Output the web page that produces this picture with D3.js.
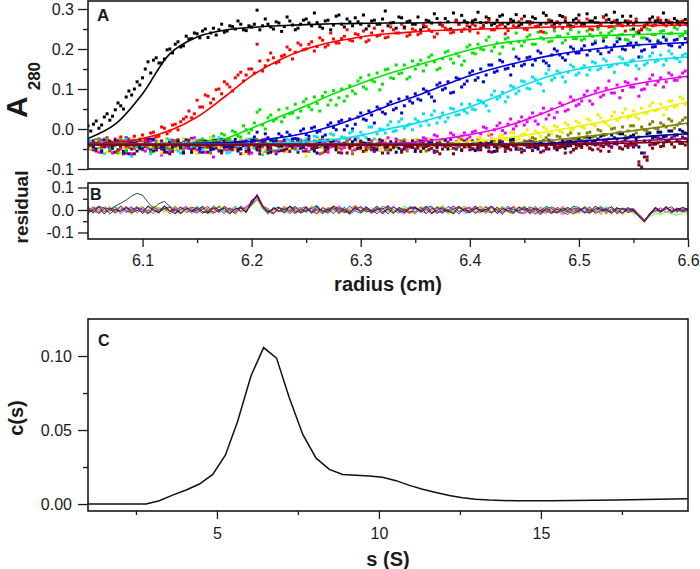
<!DOCTYPE html>
<html><head><meta charset="utf-8">
<script src="https://cdn.jsdelivr.net/npm/d3@7"></script>
<style>
body{margin:0;background:#fff;}
svg{display:block;}
</style></head><body>
<svg id="chart" width="700" height="569"></svg>
<script>
// ---------------- DATA ----------------
// radial positions of the scan points (cm), first reading set
const radius = [
6.050,6.055,6.060,6.065,6.070,6.075,6.080,6.085,6.090,6.095,
6.100,6.105,6.110,6.115,6.120,6.125,6.130,6.135,6.140,6.145,
6.150,6.155,6.160,6.165,6.170,6.175,6.180,6.185,6.190,6.195,
6.200,6.205,6.210,6.215,6.220,6.225,6.230,6.235,6.240,6.245,
6.250,6.255,6.260,6.265,6.270,6.275,6.280,6.285,6.290,6.295,
6.300,6.305,6.310,6.315,6.320,6.325,6.330,6.335,6.340,6.345,
6.350,6.355,6.360,6.365,6.370,6.375,6.380,6.385,6.390,6.395,
6.400,6.405,6.410,6.415,6.420,6.425,6.430,6.435,6.440,6.445,
6.450,6.455,6.460,6.465,6.470,6.475,6.480,6.485,6.490,6.495,
6.500,6.505,6.510,6.515,6.520,6.525,6.530,6.535,6.540,6.545,
6.550,6.555,6.560,6.565,6.570,6.575,6.580,6.585,6.590,6.595,
6.600];
// radial positions of the interleaved readings (cm)
const radiusMid = [
6.0525,6.0575,6.0625,6.0675,6.0725,6.0775,6.0825,6.0875,6.0925,6.0975,
6.1025,6.1075,6.1125,6.1175,6.1225,6.1275,6.1325,6.1375,6.1425,6.1475,
6.1525,6.1575,6.1625,6.1675,6.1725,6.1775,6.1825,6.1875,6.1925,6.1975,
6.2025,6.2075,6.2125,6.2175,6.2225,6.2275,6.2325,6.2375,6.2425,6.2475,
6.2525,6.2575,6.2625,6.2675,6.2725,6.2775,6.2825,6.2875,6.2925,6.2975,
6.3025,6.3075,6.3125,6.3175,6.3225,6.3275,6.3325,6.3375,6.3425,6.3475,
6.3525,6.3575,6.3625,6.3675,6.3725,6.3775,6.3825,6.3875,6.3925,6.3975,
6.4025,6.4075,6.4125,6.4175,6.4225,6.4275,6.4325,6.4375,6.4425,6.4475,
6.4525,6.4575,6.4625,6.4675,6.4725,6.4775,6.4825,6.4875,6.4925,6.4975,
6.5025,6.5075,6.5125,6.5175,6.5225,6.5275,6.5325,6.5375,6.5425,6.5475,
6.5525,6.5575,6.5625,6.5675,6.5725,6.5775,6.5825,6.5875,6.5925,6.5975];
// radial positions of the fitted curves (cm)
const fitRadius = [6.050,6.075,6.100,6.125,6.150,6.175,6.200,6.225,6.250,6.275,6.300,6.325,6.350,6.375,6.400,6.425,6.450,6.475,6.500,6.525,6.550,6.575,6.600];

// absorbance at 280 nm (milli-absorbance units) at radius
const scan1 = [8,12,2,30,22,48,58,80,85,118, 128,168,172,165,175,200,212,205,232,226, 238,245,229,252,248,242,258,250,262,246, 255,297,258,262,250,265,256,270,248,262, 275,258,266,252,272,260,285,255,268,278, 262,250,270,262,275,258,266,280,255,270, 262,248,272,265,276,258,268,290,262,270, 255,273,266,280,260,272,285,263,270,258, 282,268,276,262,284,270,266,281,258,272, 285,264,270,278,260,285,266,272,282,262, 250,240,258,275,270,266,272,262,270,268, 264];
const scan2 = [-30,-45,-25,-40,-52,-33,-20,-42,-28,-36, -15,-25,-8,-18,2,-5,12,18,30,28, 72,55,82,75,100,118,105,128,142,135, 150,212,145,172,178,168,185,198,192,210, 200,218,206,222,210,225,215,232,222,238, 228,218,240,232,245,230,248,240,252,236, 246,240,256,244,238,258,248,242,262,250, 245,258,252,266,248,256,262,246,258,268, 250,262,256,244,264,258,268,252,262,256, 270,258,250,266,260,272,256,264,258,270, 262,245,255,268,260,272,258,266,262,270, 258];
const scan3 = [-32,-48,-38,-25,-50,-42,-35,-55,-30,-44, -38,-28,-47,-36,-52,-40,-30,-45,-35,-26, -40,-25,-36,-18,-30,-15,-26,-8,-20,-2, -2,42,10,28,20,48,30,38,62,45, 75,48,64,82,60,96,78,70,108,88, 128,100,122,140,112,150,126,138,160,130, 150,172,160,185,148,176,195,165,182,170, 210,188,200,222,195,215,205,228,200,218, 218,235,212,228,240,220,232,215,238,226, 242,225,236,220,240,230,245,228,236,222, 232,210,228,248,236,244,225,240,250,234, 238];
const scan4 = [-30,-45,-52,-28,-40,-35,-48,-22,-38,-55, -33,-42,-26,-46,-38,-30,-50,-36,-44,-24, -40,-58,-32,-38,-47,-28,-42,-35,-50,-30, -28,-8,-36,-22,-30,-12,-28,-15,-24,-5, -14,2,-8,-20,10,4,18,-2,25,12, 40,22,35,55,42,62,48,75,58,70, 88,72,95,80,110,98,118,92,125,112, 140,122,150,135,160,145,168,152,158,175, 162,180,172,190,165,185,195,178,188,200, 190,208,196,215,188,205,198,218,200,212, 205,180,198,220,206,215,222,208,224,212, 218];
const scan5 = [-35,-50,-28,-62,-40,-33,-45,-25,-68,-38, -42,-30,-55,-36,-48,-27,-40,-60,-34,-45, -29,-52,-38,-44,-22,-36,-58,-40,-31,-47, -26,-42,-64,-35,-30,-50,-38,-28,-45,-33, -25,-40,-20,-34,-28,-15,-30,-22,-10,-25, -8,-22,5,-12,-2,10,-6,18,2,12, 25,8,20,35,15,40,28,50,36,45, 62,48,70,58,85,75,92,80,105,95, 118,100,125,112,138,122,145,130,142,155, 140,158,148,165,152,170,158,162,175,160, 172,150,160,182,168,185,172,188,176,184, 180];
const scan6 = [-45,-30,-58,-38,-42,-25,-50,-35,-62,-40, -33,-48,-28,-44,-38,-55,-30,-42,-47,-26, -52,-36,-40,-70,-33,-45,-29,-50,-38,-42, -60,-35,-27,-48,-40,-32,-55,-38,-44,-28, -50,-36,-42,-30,-58,-40,-34,-46,-25,-52, -38,-43,-30,-48,-36,-22,-45,-38,-28,-40, -30,-42,-25,-36,-18,-28,-32,-15,-24,-10, -20,-5,-12,2,-15,8,-4,12,0,18, 10,28,20,38,25,50,42,60,48,72, 62,85,70,95,80,102,90,110,96,115, 105,82,100,125,110,128,118,135,122,140, 130];
const scan7 = [-40,-28,-52,-35,-45,-30,-60,-38,-25,-48, -36,-42,-55,-32,-40,-27,-50,-38,-44,-30, -62,-35,-41,-28,-46,-38,-33,-52,-40,-25, -45,-36,-58,-30,-42,-38,-27,-50,-34,-44, -68,-36,-30,-48,-40,-26,-52,-38,-35,-45, -30,-56,-40,-28,-44,-36,-50,-32,-42,-38, -26,-48,-35,-40,-55,-30,-44,-38,-28,-42, -30,-40,-22,-35,-20,-32,-15,-28,-10,-24, -12,-22,-5,-18,0,-12,5,-8,10,0, 15,2,22,8,28,15,32,22,40,28, 45,25,40,58,46,62,50,70,58,75, 65];
const scan8 = [-35,-48,-30,-42,-55,-38,-28,-45,-40,-33, -52,-36,-25,-44,-38,-50,-30,-42,-36,-58, -32,-40,-46,-28,-38,-52,-35,-42,-30,-48, -38,-26,-45,-40,-55,-33,-42,-36,-50,-28, -40,-45,-32,-60,-38,-30,-47,-36,-42,-25, -50,-38,-34,-44,-30,-52,-40,-36,-28,-46, -38,-42,-55,-32,-40,-26,-48,-36,-44,-30, -40,-50,-34,-38,-28,-45,-36,-42,-30,-48, -30,-40,-25,-35,-22,-30,-18,-28,-15,-25, -12,-22,-8,-18,-5,-14,0,-10,5,-5, 8,-20,-2,12,2,15,5,20,10,22, 12];
const scan9 = [-42,-30,-50,-36,-45,-28,-40,-55,-33,-38, -48,-25,-44,-36,-52,-30,-40,-46,-35,-58, -38,-28,-42,-50,-32,-45,-38,-26,-48,-40, -35,-52,-30,-44,-38,-55,-28,-42,-36,-48, -32,-40,-60,-35,-45,-30,-50,-38,-42,-27, -46,-36,-40,-52,-30,-44,-38,-48,-34,-42, -56,-30,-40,-36,-46,-28,-50,-38,-44,-32, -40,-54,-36,-45,-30,-48,-38,-42,-26,-50, -36,-40,-46,-32,-44,-38,-52,-30,-42,-36, -25,-35,-22,-30,-18,-28,-15,-25,-12,-22, -15,-45,-30,-10,-20,-8,-18,-5,-15,-6, -12];
const scan10 = [-45,-32,-55,-38,-48,-28,-42,-60,-35,-40, -50,-30,-46,-38,-58,-33,-44,-40,-27,-52, -36,-48,-42,-30,-55,-38,-45,-34,-62,-40, -28,-46,-38,-52,-35,-42,-30,-56,-40,-44, -32,-50,-38,-46,-28,-42,-58,-36,-40,-48, -30,-44,-52,-38,-35,-60,-42,-30,-46,-38, -50,-34,-44,-28,-56,-40,-36,-48,-42,-30, -52,-38,-45,-35,-58,-40,-32,-48,-42,-36, -54,-30,-44,-40,-50,-35,-46,-38,-30,-52, -40,-34,-48,-36,-42,-28,-45,-38,-32,-46, -38,-82,-60,-30,-38,-25,-32,-22,-30,-20, -28];
const scan11 = [-40,-52,-35,-45,-30,-58,-42,-38,-50,-33, -46,-40,-55,-36,-44,-62,-38,-48,-30,-52, -42,-35,-58,-40,-47,-33,-50,-44,-38,-56, -36,-48,-40,-60,-32,-45,-52,-38,-44,-35, -55,-40,-46,-30,-50,-42,-58,-36,-48,-40, -34,-52,-44,-38,-60,-40,-46,-32,-50,-42, -38,-56,-42,-48,-35,-50,-40,-62,-36,-45, -44,-38,-52,-40,-34,-55,-42,-48,-36,-50, -40,-46,-35,-58,-42,-38,-50,-44,-36,-52, -42,-36,-48,-40,-55,-38,-45,-34,-50,-40, -45,-90,-70,-40,-36,-44,-30,-38,-28,-36, -32];

// absorbance (milli-absorbance units) at radiusMid
const scan1Mid = [-5,20,10,38,32,65,50,95,100,110, 150,140,178,165,198,190,218,208,225,240, 228,250,240,235,262,245,256,270,248,258, 262,248,275,255,268,244,280,260,252,272, 265,290,256,270,248,282,262,275,258,268, 285,258,272,262,295,265,252,278,268,262, 280,255,270,288,262,276,250,272,284,266, 270,292,258,276,264,282,255,274,286,262, 268,280,256,290,272,262,284,270,258,276, 262,288,270,256,280,274,292,264,270,282, 268,248,262,280,272,290,266,276,260,274];
const scan2Mid = [-48,-30,-42,-22,-38,-55,-30,-40,-18,-34, -28,-10,-20,5,-12,10,-2,25,45,38, 55,85,65,98,88,112,95,135,120,150, 140,170,158,190,165,182,205,175,215,198, 212,195,228,205,240,215,226,248,220,236, 245,222,252,235,228,255,240,262,232,250, 236,260,248,230,265,252,240,270,244,258, 262,240,255,272,248,260,238,268,254,275, 248,266,258,242,272,252,262,278,250,264, 258,275,248,266,280,255,270,262,245,268, 275,250,265,258,278,262,270,255,268,262];
const scan3Mid = [-45,-28,-52,-36,-42,-60,-30,-38,-48,-26, -40,-55,-33,-44,-25,-50,-38,-46,-30,-42, -28,-40,-22,-35,-12,-28,-5,-18,8,-10, 15,48,0,35,25,18,52,40,28,68, 55,80,45,92,72,60,100,82,95,120, 105,135,118,98,148,128,160,140,125,170, 162,145,180,168,152,192,175,188,160,205, 190,212,198,230,205,188,225,215,240,208, 230,212,242,225,218,245,232,222,248,226, 222,245,232,250,228,240,252,235,224,248, 242,228,250,236,222,246,238,255,232,244];
const scan4Mid = [-42,-28,-55,-36,-48,-30,-40,-62,-34,-45, -26,-50,-38,-44,-58,-32,-40,-28,-48,-36, -45,-30,-52,-38,-26,-44,-35,-55,-32,-40, -20,-35,-12,-28,-40,-18,-8,-25,-30,0, -18,5,-5,-15,15,-2,22,8,0,30, 25,45,15,50,38,68,52,40,80,65, 75,100,88,70,115,102,90,128,105,120, 145,128,118,160,142,172,150,135,180,158, 178,160,195,170,158,200,185,172,205,190, 200,185,212,195,220,192,210,225,198,215, 215,195,225,205,218,230,210,222,205,226];
const scan5Mid = [-30,-52,-40,-26,-58,-35,-45,-38,-28,-50, -36,-62,-42,-30,-48,-38,-55,-25,-44,-33, -52,-38,-28,-46,-40,-60,-32,-42,-36,-25, -48,-34,-56,-38,-30,-44,-26,-40,-52,-30, -35,-18,-42,-28,-12,-36,-20,-30,-5,-22, -15,5,-25,0,-10,18,-4,25,8,-2, 20,38,10,45,28,18,52,35,62,40, 50,72,65,45,95,80,68,108,88,120, 102,130,115,95,148,128,140,118,160,135, 152,135,168,148,175,155,142,180,162,170, 158,180,165,190,172,160,195,178,168,188];
const scan6Mid = [-36,-52,-28,-44,-60,-33,-40,-25,-48,-38, -55,-30,-42,-65,-35,-28,-50,-38,-45,-22, -40,-58,-34,-46,-26,-52,-38,-42,-30,-62, -35,-48,-25,-40,-55,-32,-44,-38,-28,-50, -42,-30,-62,-36,-45,-28,-50,-38,-55,-33, -46,-28,-40,-52,-32,-45,-25,-38,-50,-30, -42,-22,-35,-15,-40,-28,-10,-32,-18,-25, -8,-25,5,-15,-2,15,-10,25,8,30, 18,40,12,52,35,28,65,45,80,58, 70,95,62,102,85,120,90,78,118,105, 125,98,112,135,118,105,140,122,130,145];
const scan7Mid = [-48,-30,-42,-58,-35,-25,-46,-38,-52,-32, -28,-45,-38,-60,-30,-42,-50,-26,-40,-55, -35,-48,-22,-40,-52,-34,-45,-30,-62,-38, -42,-28,-50,-36,-25,-46,-58,-32,-40,-48, -30,-55,-38,-44,-26,-50,-36,-42,-60,-34, -46,-32,-40,-52,-28,-44,-38,-56,-30,-42, -36,-50,-25,-44,-38,-30,-48,-34,-22,-40, -38,-22,-30,-12,-35,-18,-25,-8,-28,-15, -2,-20,-10,5,-15,8,-5,15,-2,20, 5,25,12,35,18,8,42,28,50,32, 30,52,40,65,48,35,70,55,80,62];
const scan8Mid = [-50,-36,-44,-28,-40,-55,-32,-46,-38,-25, -42,-58,-30,-40,-48,-35,-26,-52,-38,-44, -30,-45,-60,-36,-42,-28,-50,-38,-33,-55, -46,-32,-40,-52,-25,-44,-36,-48,-30,-42, -56,-38,-28,-45,-35,-50,-40,-30,-62,-38, -34,-48,-40,-26,-52,-36,-44,-30,-55,-42, -28,-46,-38,-58,-32,-42,-36,-50,-26,-44, -48,-34,-40,-55,-30,-45,-38,-26,-50,-36, -40,-22,-36,-28,-15,-35,-20,-30,-10,-26, -28,-10,-20,-2,-15,-25,2,-8,-18,8, -10,5,-5,18,0,10,25,2,15,28];
const scan9Mid = [-34,-50,-40,-28,-45,-36,-56,-30,-42,-48, -38,-26,-52,-40,-35,-46,-30,-60,-38,-44, -50,-32,-42,-28,-55,-38,-45,-34,-40,-52, -28,-44,-36,-58,-30,-42,-50,-38,-25,-46, -40,-55,-34,-45,-28,-52,-38,-42,-32,-48, -36,-26,-50,-40,-46,-32,-58,-38,-44,-30, -42,-48,-34,-55,-38,-28,-45,-40,-52,-36, -30,-46,-40,-36,-56,-32,-44,-28,-50,-38, -45,-32,-50,-38,-28,-44,-35,-48,-30,-40, -38,-20,-32,-25,-15,-35,-22,-12,-28,-18, -25,-60,-12,-22,-8,-20,-5,-15,-2,-10];
const scan10Mid = [-36,-55,-42,-30,-48,-38,-62,-34,-45,-28, -44,-38,-52,-30,-40,-56,-35,-46,-28,-42, -58,-32,-40,-48,-36,-26,-52,-42,-38,-46, -40,-54,-30,-44,-62,-36,-48,-32,-42,-55, -26,-46,-38,-52,-34,-44,-60,-30,-40,-48, -42,-36,-56,-28,-46,-40,-32,-52,-38,-44, -48,-30,-42,-58,-36,-44,-26,-50,-40,-34, -38,-52,-32,-46,-40,-28,-56,-36,-44,-50, -32,-45,-40,-55,-30,-48,-38,-42,-58,-36, -44,-30,-38,-50,-28,-42,-35,-46,-25,-40, -30,-95,-70,-38,-22,-35,-28,-18,-32,-24];
const scan11Mid = [-48,-36,-58,-42,-34,-52,-45,-38,-62,-40, -36,-55,-44,-50,-38,-46,-32,-58,-42,-48, -52,-40,-46,-34,-60,-44,-38,-50,-42,-56, -44,-62,-38,-48,-40,-54,-36,-46,-58,-42, -38,-50,-44,-56,-36,-46,-40,-60,-42,-48, -56,-40,-48,-36,-44,-52,-38,-58,-42,-46, -44,-36,-52,-40,-62,-42,-48,-38,-54,-44, -50,-42,-38,-56,-44,-36,-48,-52,-40,-58, -38,-54,-44,-40,-50,-36,-46,-60,-42,-48, -46,-40,-52,-38,-44,-56,-36,-48,-42,-34, -40,-100,-78,-48,-35,-42,-30,-45,-36,-40];

// fitted boundaries (milli-absorbance) at fitRadius
const fit1 = [-24,12,88,188,230,247,254,258,261,263,264,265,265,266,266,266,266,266,266,266,266,266,266];
const fit2 = [-37,-33,-24,-4,30,80,133,172,200,218,230,238,243,247,249,251,253,255,256,257,258,259,260];
const fit3 = [-40,-40,-39,-38,-35,-25,2,30,58,88,114,138,158,178,198,213,222,228,231,234,236,238,239];
const fit4 = [-38,-38,-38,-37,-36,-34,-31,-22,-10,8,32,58,82,108,133,153,170,184,195,203,209,213,216];
const fit5 = [-38,-38,-38,-38,-38,-38,-37,-35,-32,-27,-16,0,14,33,55,82,110,134,150,160,168,175,180];
const fit6 = [-38,-38,-38,-38,-38,-38,-38,-38,-38,-38,-38,-36,-33,-25,-14,0,22,48,75,96,112,123,132];
const fit7 = [-38,-38,-38,-38,-38,-38,-38,-38,-38,-38,-38,-38,-38,-38,-32,-25,-16,-5,7,20,36,52,68];
const fit8 = [-38,-38,-38,-38,-38,-38,-38,-38,-38,-38,-38,-38,-38,-38,-38,-38,-34,-28,-21,-13,-4,5,15];
const fit9 = [-38,-38,-38,-38,-38,-38,-38,-38,-38,-38,-38,-38,-38,-38,-38,-38,-38,-36,-31,-26,-21,-16,-12];
const fit10 = [-39,-39,-39,-39,-39,-39,-39,-39,-39,-39,-39,-39,-39,-39,-39,-39,-39,-39,-36,-33,-30,-27,-24];
const fit11 = [-40,-40,-40,-40,-40,-40,-40,-40,-40,-40,-40,-40,-40,-40,-40,-40,-40,-39,-38,-37,-35,-33,-32];

// residuals (milli-absorbance) at radius
const res1 = [10,-4,-14,6,2,18,30,44,62,74, 66,34,8,28,38,16,-2,-16,6,-8, 2,14,-12,-6,18,-2,-16,4,10,-10, 44,58,12,-6,-18,10,4,-2,16,-12, -4,8,20,-10,-2,6,-14,12,-6,0, 14,-8,-2,-16,4,18,-10,6,2,-12, 8,-6,12,16,-14,-4,2,-18,10,4, -10,6,-2,14,-12,0,10,-8,-16,12, 2,-14,8,-4,16,6,-10,-2,12,-8, 6,-12,4,-6,14,-2,-16,8,2,10, -4,-26,-46,-16,12,-6,4,14,-8,2, -4];
const res2 = [-8,12,2,-16,6,-4,18,-12,4,10, -14,0,16,-6,8,-18,2,12,-10,-2, 6,-16,10,4,-8,14,-4,-12,18,2, 30,68,20,-12,4,-6,16,-2,-14,8, 12,-4,-18,6,-10,2,14,-8,4,20, -6,10,-14,-2,16,8,-12,4,-4,-16, 14,-8,6,-16,2,18,-4,-10,12,0, -12,4,16,-6,-14,10,2,-8,18,-4, 8,-18,0,12,-6,4,-14,16,-2,6, -10,14,-4,2,-16,8,12,-6,-12,4, 6,-22,-50,-18,10,-4,16,-8,2,-10, 6];
const res3 = [16,-6,-12,4,10,-18,2,8,-4,14, -2,-14,18,6,-8,12,-16,0,4,-10, 10,4,-6,-18,14,-2,6,-12,16,-8, 24,50,14,4,-16,8,-4,18,-10,2, -12,16,-6,8,-2,-14,10,4,-18,12, 6,-10,2,14,-16,-4,12,-8,18,-2, -14,8,-4,-10,16,6,-18,2,-6,10, 4,-16,12,-2,8,-12,18,-6,2,-14, 14,-4,-10,6,-18,12,-2,4,-8,16, -6,10,-16,2,18,-8,4,-14,10,-2, -10,-20,-42,-26,4,-14,8,-2,-12,6, -6];
const res4 = [-12,2,18,-8,-4,14,-16,6,10,-2, 8,-14,4,-10,16,-2,-18,12,0,6, -4,18,-12,8,2,-16,10,-6,14,-10, 40,64,6,-16,12,-4,-10,16,4,-14, 2,-8,14,-18,6,10,-2,-12,18,-6, -14,12,-4,4,-16,20,-8,2,-10,14, 10,-2,-16,8,-6,-12,16,4,-18,6, -6,16,2,-14,10,-4,-8,18,-12,0, 12,-10,6,-4,-16,14,2,-8,10,-18, -2,8,-12,16,4,-10,-6,12,-14,6, 0,-30,-52,-14,-6,10,-12,6,-4,12, 2];
const res5 = [6,-16,12,-2,-10,16,4,-8,-14,8, -4,14,-18,2,10,-6,16,-12,4,-2, 18,-8,-2,12,-14,6,-4,20,-10,2, 26,48,10,-20,6,14,-8,-16,2,12, -10,4,16,-6,-18,8,-2,14,-12,6, -16,2,10,-8,18,-4,-12,6,-2,16, 4,-14,8,18,-6,-16,12,-2,10,-18, -8,12,-4,-18,14,2,-10,16,-6,-2, 10,-6,-20,4,16,-12,8,-16,2,-8, -14,4,12,-10,-2,16,-18,6,-8,10, -18,-24,-48,-30,-12,-20,-6,-16,-24,-10, -14];
const res6 = [-2,14,-18,8,4,-12,10,-6,16,-14, 12,-4,6,-16,18,-8,-2,14,-12,2, -16,8,2,-10,-4,16,-14,10,-6,18, 32,58,18,-10,-2,14,-12,8,-18,4, 16,-10,2,-14,12,-6,20,-2,-8,6, -4,8,-16,10,-12,2,16,-6,-18,12, -12,6,-2,14,-18,8,-6,18,-10,0, 14,-6,-12,4,18,-16,6,-4,10,-14, -18,2,-8,-22,6,-14,-4,-20,-10,4, 8,-16,-2,-10,12,-18,4,-6,-14,2, 6,-16,-44,-24,12,-2,8,-14,4,-8, -2];
const res7 = [8,-10,16,-4,2,-16,12,6,-12,18, -14,6,-2,12,-18,4,10,-8,-4,16, 2,-12,14,-6,8,18,-16,4,-8,-2, 18,44,12,-14,-4,10,-18,6,2,-10, 6,14,-12,-2,16,-8,4,-16,10,-4, 12,-18,6,2,-10,14,-6,-14,8,-2, -8,16,-2,-12,4,20,-14,6,-6,10, 2,-10,12,-16,8,-4,14,-12,-2,18, -6,10,-14,4,-18,12,-4,-10,6,-16, -18,-4,-14,6,-22,-8,-16,2,-24,-10, -14,-28,-55,-32,-18,-24,-10,-20,-14,-22, -16];
const res8 = [-14,4,12,-6,16,-10,-2,8,-18,6, 16,-8,-14,10,2,-4,18,-12,6,-16, -2,12,-18,6,14,-8,-4,16,-10,4, 20,46,16,8,-12,-2,12,-16,6,10, -8,18,-4,-14,6,12,-18,2,-6,14, 10,-2,-12,16,-8,4,-16,12,2,-10, -16,6,14,-4,-12,10,-2,-18,8,16, 4,-14,-6,18,-10,2,12,-8,-16,6, 16,-2,8,-12,-6,14,-16,4,10,-4, -10,16,2,-8,14,-14,6,-4,-12,8, 4,-22,-50,-20,-2,-10,6,-6,10,-4, 0];
const res9 = [2,-12,16,8,-18,4,-6,12,-2,14, -16,20,-4,-10,6,14,-12,2,16,-6, 12,-6,-14,18,-2,8,-16,4,10,-12, 36,66,14,-8,4,12,-14,18,-4,-10, 14,-16,6,-2,-12,18,4,-8,-14,10, -6,16,-10,2,8,-18,14,-2,-12,6, 8,-4,18,-14,-2,12,-10,4,16,-8, -12,10,-6,2,16,-16,6,-2,-10,14, -4,14,2,-18,10,-6,-12,8,-2,16, 12,-8,-14,6,4,-2,16,-18,8,-6, 2,-30,-54,-20,8,-6,14,-10,4,10, 4];
const res10 = [-16,6,-8,14,2,-12,18,-4,-10,8, 2,-18,12,-2,16,-8,4,-14,10,-6, -10,4,16,-14,-2,10,-18,6,-4,12, 28,70,22,-2,-14,8,2,-10,14,-6, 8,-12,18,-6,4,-16,10,2,-20,-2, 16,-4,-10,8,-18,12,2,-14,6,-8, -6,14,-16,4,10,-12,-2,18,-8,6, 10,-14,4,-8,16,-2,-18,6,12,-10, -12,8,-18,2,-6,-16,4,-10,-20,6, 4,-10,14,-16,-4,8,-12,2,-18,10, -8,-26,-52,-20,4,-10,12,-4,6,-6, -2];
const res11 = [4,-10,14,-18,8,2,-6,16,-12,-2, -8,16,2,-12,20,-6,10,-16,4,12, 6,-14,-4,10,-10,16,2,-18,8,-6, 26,62,16,-16,10,-8,4,14,-12,2, -6,8,-16,12,-2,18,-10,4,-14,16, -12,4,-2,18,-8,6,-16,12,-4,10, 14,-10,6,-18,12,2,-6,-14,16,-4, -2,18,-8,4,-12,14,-16,10,2,-6, 10,-6,16,-10,4,-14,12,-2,-8,-16, -4,12,-10,18,-6,2,-14,8,4,-12, -2,-24,-50,-18,10,-6,12,-10,6,-2, 4];

// continuous sedimentation coefficient distribution
const sValues = [1.02,2.81,3.22,3.63,4.05,4.46,4.87,5.26,5.64,6.05,6.44,6.84,7.23,7.65,8.06,8.47,8.88,9.29,9.70,10.11,10.53,10.94,11.35,11.76,12.17,12.58,12.99,13.40,13.81,14.22,15.30,17.30,19.54];
const cValues = [0,0,0.0022,0.0060,0.0095,0.0135,0.0200,0.0330,0.0560,0.0865,0.1057,0.0986,0.0720,0.0470,0.0310,0.0234,0.0200,0.0195,0.0190,0.0181,0.0158,0.0126,0.0100,0.0078,0.0058,0.0043,0.0033,0.0027,0.0024,0.0022,0.0022,0.0027,0.0036];

// tick values and labels
const aTicks = [-100,0,100,200,300];
const aTickLabels = ["-0.1","0.0","0.1","0.2","0.3"];
const aMinor = [-50,50,150,250];
const bTicks = [-100,0,100];
const bTickLabels = ["-0.1","0.0","0.1"];
const bMinor = [-50,50];
const rTicks = [6.1,6.2,6.3,6.4,6.5,6.6];
const rTickLabels = ["6.1","6.2","6.3","6.4","6.5","6.6"];
const rMinor = [6.15,6.25,6.35,6.45,6.55];
const sTicks = [5,10,15];
const sTickLabels = ["5","10","15"];
const sMinor = [2.5,7.5,12.5,17.5];
const cTicks = [0,0.05,0.10];
const cTickLabels = ["0.00","0.05","0.10"];
const cMinor = [0.025,0.075];

// ---------------- STYLE ----------------
const colors = ["#000000","#ff0000","#00e600","#0000dd","#00e0f0","#f000f0","#f0f000","#808000","#000080","#800080","#800000"];
const FONT = '"Liberation Sans", Arial, Helvetica, sans-serif';
const INK = "#1a1a1a";

const scans = [scan1,scan2,scan3,scan4,scan5,scan6,scan7,scan8,scan9,scan10,scan11];
const scansMid = [scan1Mid,scan2Mid,scan3Mid,scan4Mid,scan5Mid,scan6Mid,scan7Mid,scan8Mid,scan9Mid,scan10Mid,scan11Mid];
const fits = [fit1,fit2,fit3,fit4,fit5,fit6,fit7,fit8,fit9,fit10,fit11];
const resids = [res1,res2,res3,res4,res5,res6,res7,res8,res9,res10,res11];

// ---------------- LAYOUT ----------------
const svg = d3.select("#chart").attr("font-family", FONT);
const L = 88, R = 688;
const A = {top: 1, bottom: 169};
const B = {top: 183, bottom: 239};
const C = {top: 319, bottom: 511};

const x = d3.scaleLinear().domain([6.05, 6.60]).range([L, R]);
const yA = d3.scaleLinear().domain([-100, 320]).range([A.bottom, A.top]);
const yB = d3.scaleLinear().domain([-129, 120]).range([B.bottom, B.top]);
const xC = d3.scaleLinear().domain([1.02, 19.54]).range([L, R]);
const yC = d3.scaleLinear().domain([-0.0047, 0.125]).range([C.bottom, C.top]);

const defs = svg.append("defs");
[["clipA",A],["clipB",B],["clipC",C]].forEach(([id,p]) => {
  defs.append("clipPath").attr("id", id).append("rect")
    .attr("x", L).attr("y", p.top).attr("width", R - L).attr("height", p.bottom - p.top);
});

function styleAxis(g, fs) {
  g.select(".domain").remove();
  g.selectAll("line").attr("stroke", INK).attr("stroke-width", 1.3);
  g.selectAll("text").attr("font-size", fs).attr("fill", INK).attr("font-family", FONT);
}
function yAxis(scale, ticks, labels, minor, pad) {
  const g = svg.append("g").attr("transform", `translate(${L},0)`)
    .call(d3.axisLeft(scale).tickValues(ticks).tickSize(10).tickPadding(pad)
      .tickFormat((d, i) => labels[i]));
  styleAxis(g, 16);
  const m = svg.append("g").attr("transform", `translate(${L},0)`)
    .call(d3.axisLeft(scale).tickValues(minor).tickSize(5).tickFormat(""));
  styleAxis(m, 16);
}
function xAxis(scale, y0, ticks, labels, minor, pad) {
  const g = svg.append("g").attr("transform", `translate(0,${y0})`)
    .call(d3.axisBottom(scale).tickValues(ticks).tickSize(8).tickPadding(pad)
      .tickFormat((d, i) => labels[i]));
  styleAxis(g, 16);
  const m = svg.append("g").attr("transform", `translate(0,${y0})`)
    .call(d3.axisBottom(scale).tickValues(minor).tickSize(4).tickFormat(""));
  styleAxis(m, 16);
}

// ---------------- PANEL A ----------------
const gA = svg.append("g").attr("clip-path", "url(#clipA)");
// draw order is interleaved across scans so no single colour hides the others
const points = [];
radius.forEach((r, j) => {
  for (let k = 0; k < scans.length; k++) {
    const i = (k + j * 4) % scans.length;
    if (scans[i][j] !== undefined) points.push({r: r, v: scans[i][j], c: colors[i]});
  }
  if (j < radiusMid.length) {
    for (let k = 0; k < scans.length; k++) {
      const i = (k + j * 4 + 7) % scans.length;
      if (scansMid[i][j] !== undefined) points.push({r: radiusMid[j], v: scansMid[i][j], c: colors[i]});
    }
  }
});
gA.append("g").selectAll("rect")
  .data(points)
  .join("rect")
  .attr("x", d => x(d.r) - 1.5).attr("y", d => yA(d.v) - 1.5)
  .attr("width", 3).attr("height", 3)
  .attr("fill", d => d.c);
const fitLine = d3.line().x(d => x(d[0])).y(d => yA(d[1])).curve(d3.curveCatmullRom.alpha(0.5));
fits.forEach((arr, i) => {
  gA.append("path")
    .attr("d", fitLine(fitRadius.map((r, j) => [r, arr[j]])))
    .attr("fill", "none").attr("stroke", colors[i]).attr("stroke-width", 1.6);
});
svg.append("rect").attr("x", L).attr("y", A.top).attr("width", R - L).attr("height", A.bottom - A.top)
  .attr("fill", "none").attr("stroke", INK).attr("stroke-width", 1.6);
yAxis(yA, aTicks, aTickLabels, aMinor, 4);

// ---------------- PANEL B ----------------
const gB = svg.append("g").attr("clip-path", "url(#clipB)");
const resLine = d3.line().x(d => x(d[0])).y(d => yB(d[1]));
resids.forEach((arr, i) => {
  gB.append("path")
    .attr("d", resLine(radius.map((r, j) => [r, arr[j]]).filter(d => d[1] !== undefined)))
    .attr("fill", "none").attr("stroke", colors[i]).attr("stroke-width", 0.75);
});
svg.append("rect").attr("x", L).attr("y", B.top).attr("width", R - L).attr("height", B.bottom - B.top)
  .attr("fill", "none").attr("stroke", INK).attr("stroke-width", 1.6);
yAxis(yB, bTicks, bTickLabels, bMinor, 4);
xAxis(x, B.bottom, rTicks, rTickLabels, rMinor, 8);

// ---------------- PANEL C ----------------
const gC = svg.append("g").attr("clip-path", "url(#clipC)");
gC.append("path")
  .attr("d", d3.line().x(d => xC(d[0])).y(d => yC(d[1]))(sValues.map((s, j) => [s, cValues[j]])))
  .attr("fill", "none").attr("stroke", "#111").attr("stroke-width", 1.5);
svg.append("rect").attr("x", L).attr("y", C.top).attr("width", R - L).attr("height", C.bottom - C.top)
  .attr("fill", "none").attr("stroke", INK).attr("stroke-width", 1.6);
yAxis(yC, cTicks, cTickLabels, cMinor, 6);
xAxis(xC, C.bottom, sTicks, sTickLabels, sMinor, 9);

// ---------------- TITLES ----------------
const tA = svg.append("text").attr("transform", "translate(27,118) rotate(-90)")
  .attr("font-weight", "bold").attr("fill", INK);
tA.append("tspan").attr("font-size", 30).text("A");
tA.append("tspan").attr("font-size", 17).attr("dx", 6).attr("dy", 13).text("280");

svg.append("text").attr("transform", "translate(28,207) rotate(-90)")
  .attr("text-anchor", "middle").attr("font-weight", "bold").attr("font-size", 19).attr("fill", INK)
  .text("residual");
svg.append("text").attr("transform", "translate(23,418) rotate(-90)")
  .attr("text-anchor", "middle").attr("font-weight", "bold").attr("font-size", 20).attr("fill", INK)
  .text("c(s)");
svg.append("text").attr("x", (L + R) / 2).attr("y", 291)
  .attr("text-anchor", "middle").attr("font-weight", "bold").attr("font-size", 20).attr("fill", INK)
  .text("radius (cm)");
svg.append("text").attr("x", (L + R) / 2).attr("y", 566)
  .attr("text-anchor", "middle").attr("font-weight", "bold").attr("font-size", 20).attr("fill", INK)
  .text("s (S)");

// panel letters
svg.append("text").attr("x", 97).attr("y", 21).attr("font-weight", "bold").attr("font-size", 17).attr("fill", INK).text("A");
svg.append("text").attr("x", 90).attr("y", 200).attr("font-weight", "bold").attr("font-size", 16).attr("fill", INK).text("B");
svg.append("text").attr("x", 98).attr("y", 346).attr("font-weight", "bold").attr("font-size", 16).attr("fill", INK).text("C");
</script>
</body></html>
